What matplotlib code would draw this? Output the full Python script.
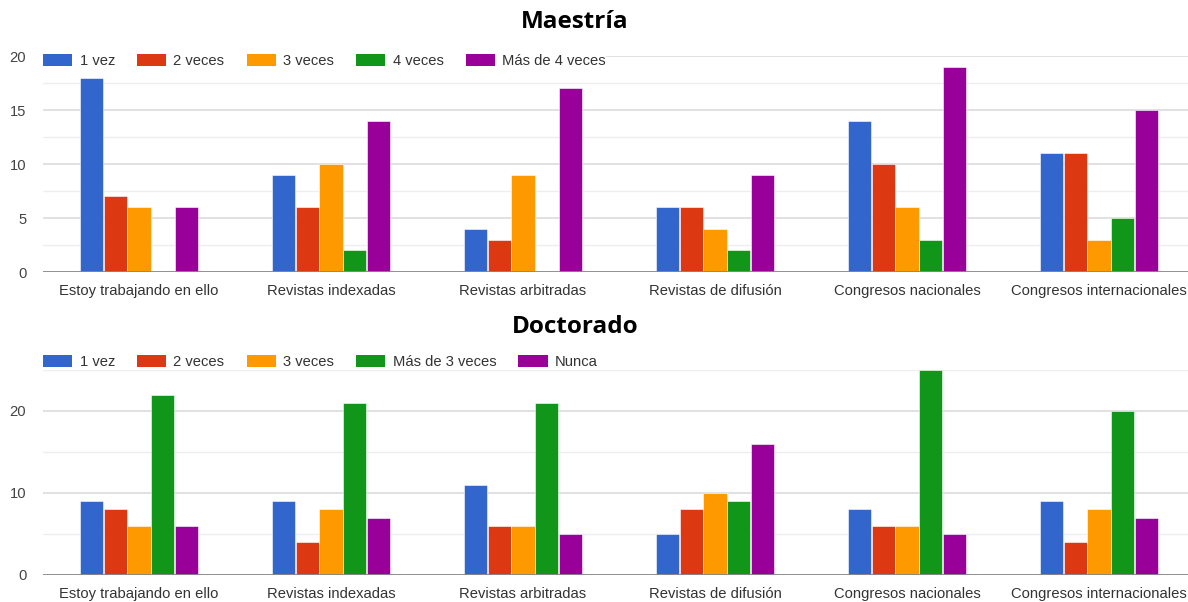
import matplotlib
matplotlib.use("Agg")
import matplotlib.pyplot as plt
import numpy as np
from matplotlib.patches import Patch

categories = ["Estoy trabajando en ello", "Revistas indexadas", "Revistas arbitradas",
              "Revistas de difusión", "Congresos nacionales", "Congresos internacionales"]

maestria_labels = ["1 vez", "2 veces", "3 veces", "4 veces", "Más de 4 veces"]
m_1vez = [18, 9, 4, 6, 14, 11]
m_2veces = [7, 6, 3, 6, 10, 11]
m_3veces = [6, 10, 9, 4, 6, 3]
m_4veces = [0, 2, 0, 2, 3, 5]
m_mas4 = [6, 14, 17, 9, 19, 15]

doctorado_labels = ["1 vez", "2 veces", "3 veces", "Más de 3 veces", "Nunca"]
d_1vez = [9, 9, 11, 5, 8, 9]
d_2veces = [8, 4, 6, 8, 6, 4]
d_3veces = [6, 8, 6, 10, 6, 8]
d_mas3 = [22, 21, 21, 9, 25, 20]
d_nunca = [6, 7, 5, 16, 5, 7]

colors = ["#3366cc", "#dc3912", "#ff9900", "#109618", "#990099"]

plt.rcParams['font.family'] = ['Liberation Sans', 'DejaVu Sans']

W, H = 1188, 602
fig = plt.figure(figsize=(W / 100, H / 100), dpi=100)

FS = 10.6


def px_axes(left, right, top, bottom):
    return fig.add_axes([left / W, (H - bottom) / H, (right - left) / W, (bottom - top) / H])


def draw(ax, series, ymax, major, minor):
    x = np.arange(len(categories))
    step = 0.123
    width = 0.12
    for i, (vals, c) in enumerate(zip(series, colors)):
        ax.bar(x + (i - 2) * step, vals, width=width, color=c, zorder=3,
               edgecolor='white', linewidth=0.4)
    ax.set_xlim(-0.5, len(categories) - 0.5)
    ax.set_ylim(0, ymax)
    ax.set_xticks(x)
    ax.set_xticklabels(categories, fontsize=FS, color='#333333', va='baseline')
    ax.set_yticks(major)
    ax.set_yticklabels([str(v) for v in major], fontsize=FS, color='#444444')
    for v in major:
        if v > 0:
            ax.axhline(v, color='#dcdcdc', lw=1.2, zorder=1)
    for v in minor:
        ax.axhline(v, color='#eeeeee', lw=1.0, zorder=1)
    ax.axhline(0, color='#888888', lw=1.3, zorder=4)
    for s in ax.spines.values():
        s.set_visible(False)
    ax.tick_params(length=0)
    ax.tick_params(axis='x', pad=16.5)
    ax.tick_params(axis='y', pad=12)


def legend(labels, ypix):
    handles = [Patch(facecolor=c, edgecolor='none') for c in colors]
    lg = fig.legend(handles, labels, loc='center left',
                    bbox_to_anchor=(43 / W, (H - ypix) / H), ncol=5, frameon=True,
                    fontsize=FS, handlelength=2.0, handleheight=0.9, handletextpad=0.48,
                    columnspacing=1.5, labelcolor='#333333', borderaxespad=0,
                    borderpad=0.0, facecolor='white', edgecolor='white', framealpha=1)
    lg.get_frame().set_linewidth(0)
    return lg


ax1 = px_axes(43, 1195, 56, 272)
draw(ax1, [m_1vez, m_2veces, m_3veces, m_4veces, m_mas4],
     20, [0, 5, 10, 15, 20], [2.5, 7.5, 12.5, 17.5])
legend(maestria_labels, 61)

ax2 = px_axes(43, 1195, 370, 575)
draw(ax2, [d_1vez, d_2veces, d_3veces, d_mas3, d_nunca],
     25, [0, 10, 20], [5, 15, 25])
legend(doctorado_labels, 362)

fig.text(575 / W, (H - 22) / H, "Maestría", ha='center', va='center',
         fontsize=17.5, fontweight='bold', color='black', family=['Open Sans', 'DejaVu Sans'])
fig.text(575 / W, (H - 327) / H, "Doctorado", ha='center', va='center',
         fontsize=17.5, fontweight='bold', color='black', family=['Open Sans', 'DejaVu Sans'])

fig.savefig("out.png", dpi=100, facecolor='white')
